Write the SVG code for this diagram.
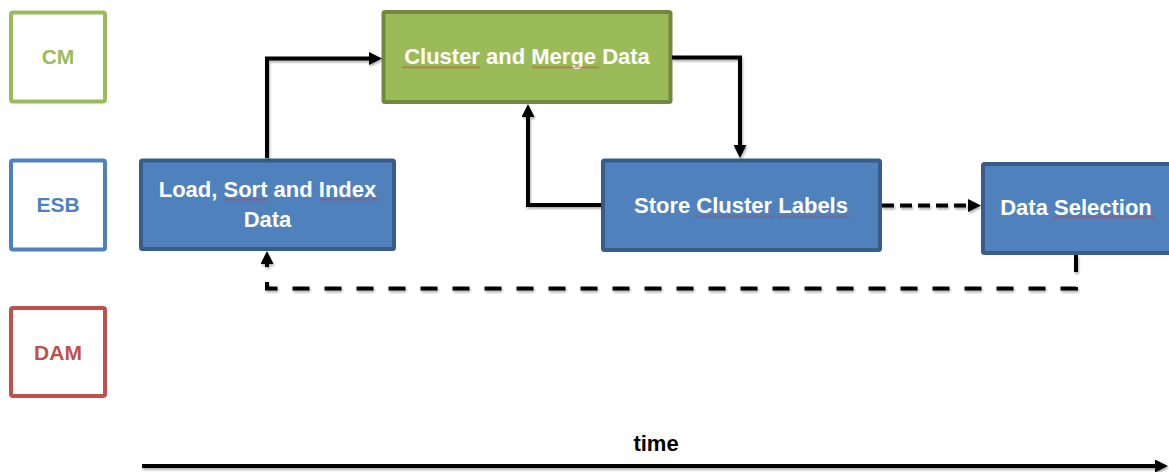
<svg xmlns="http://www.w3.org/2000/svg" width="1169" height="472" viewBox="0 0 1169 472">
  <style>
    .lane { fill: #FFFFFF; stroke-width: 4; }
    .lane-label { font-family: "Liberation Sans", Arial, sans-serif; font-weight: bold; font-size: 21px; text-anchor: middle; }
    .blue { fill: #4F81BD; stroke: #385D8A; stroke-width: 4; }
    .green { fill: #9BBB59; stroke: #71893F; stroke-width: 4; }
    .node-text { font-family: "Liberation Sans", Arial, sans-serif; font-weight: bold; font-size: 22px; fill: #FFFFFF; text-anchor: middle; }
    .conn { fill: none; stroke: #000000; stroke-width: 4; }
    .dash-short { stroke-dasharray: 12 6; }
    .dash-long { stroke-dasharray: 17 15; }
    .squiggle { fill: url(#wave); }
  </style>
  <defs>
    <marker id="arrow" markerUnits="userSpaceOnUse" markerWidth="13" markerHeight="13" refX="2" refY="6.5" orient="auto" viewBox="0 0 13 13">
      <path d="M0,0 L13,6.5 L0,13 Z" fill="#000000"/>
    </marker>
    <filter id="shadow" filterUnits="userSpaceOnUse" x="0" y="0" width="1169" height="472">
      <feDropShadow dx="1" dy="2" stdDeviation="1" flood-color="#000000" flood-opacity="0.3"/>
    </filter>
    <pattern id="wave" width="4" height="3" patternUnits="userSpaceOnUse">
      <path d="M0,0.6 L2,2.4 L4,0.6" fill="none" stroke="#E0303A" stroke-width="0.9"/>
    </pattern>
  </defs>

  <!-- lane labels -->
  <g id="lane-cm">
    <rect class="lane" x="11" y="12.5" width="94" height="89" rx="2" stroke="#9BBB59"/>
    <text class="lane-label" x="58" y="64" fill="#9BBB59">CM</text>
  </g>
  <g id="lane-esb">
    <rect class="lane" x="11" y="160.5" width="94" height="89" rx="2" stroke="#4F81BD"/>
    <text class="lane-label" x="58" y="212" fill="#4F81BD">ESB</text>
  </g>
  <g id="lane-dam">
    <rect class="lane" x="11" y="308" width="94" height="88" rx="2" stroke="#C0504D"/>
    <text class="lane-label" x="58" y="360" fill="#C0504D">DAM</text>
  </g>

  <!-- process steps -->
  <g id="node-load">
    <rect class="blue" x="141" y="160.5" width="253" height="88.5" rx="1.5"/>
    <text class="node-text" x="267.5" y="197">Load, Sort and Index</text>
    <text class="node-text" x="267.5" y="227">Data</text>
    <rect class="squiggle" x="223" y="198.5" width="45" height="3"/>
    <rect class="squiggle" x="319" y="198.5" width="61" height="3"/>
  </g>
  <g id="node-cluster-merge">
    <rect class="green" x="383.5" y="12" width="287" height="90" rx="1.5"/>
    <text class="node-text" x="527" y="64">Cluster and Merge Data</text>
    <rect class="squiggle" x="402" y="65.5" width="78" height="3"/>
    <rect class="squiggle" x="532" y="65.5" width="67" height="3"/>
  </g>
  <g id="node-store-labels">
    <rect class="blue" x="603" y="160.5" width="277" height="89.5" rx="1.5"/>
    <text class="node-text" x="741" y="213">Store Cluster Labels</text>
    <rect class="squiggle" x="695" y="215" width="79" height="3"/>
    <rect class="squiggle" x="778" y="215" width="72" height="3"/>
  </g>
  <g id="node-data-selection">
    <rect class="blue" x="983" y="164" width="192" height="89" rx="1.5"/>
    <text class="node-text" x="1076" y="215">Data Selection</text>
    <rect class="squiggle" x="1053" y="216" width="102" height="3"/>
  </g>

  <!-- connectors -->
  <g id="connectors" filter="url(#shadow)">
    <path class="conn" d="M267,158 V58.5 H371" marker-end="url(#arrow)"/>
    <path class="conn" d="M672,57.5 H740 V147" marker-end="url(#arrow)"/>
    <path class="conn" d="M601,205 H528 V115" marker-end="url(#arrow)"/>
    <path class="conn dash-short" d="M882,205.5 H970" marker-end="url(#arrow)"/>
    <path class="conn dash-long" d="M1076,255 V288.5 H267 V262" marker-end="url(#arrow)"/>
  </g>

  <!-- time axis -->
  <g id="time-axis">
    <path class="conn" d="M142,466 H1157" marker-end="url(#arrow)" filter="url(#shadow)"/>
    <text x="656" y="451" font-family="Liberation Sans, Arial, sans-serif" font-weight="bold" font-size="22" text-anchor="middle" fill="#000000">time</text>
  </g>
</svg>
